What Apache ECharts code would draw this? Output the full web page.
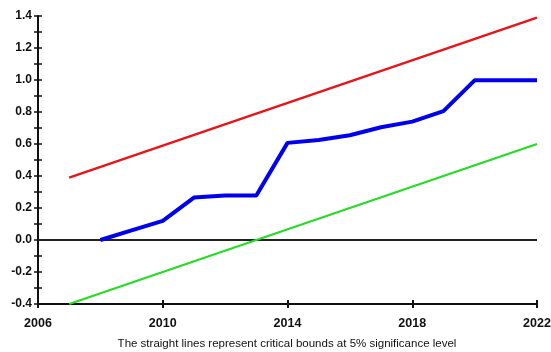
<!DOCTYPE html>
<html><head><meta charset="utf-8">
<script src="https://cdn.jsdelivr.net/npm/echarts@6/dist/echarts.min.js"></script>
<style>html,body{margin:0;padding:0;background:#fff}#c{width:551px;height:352px}</style>
</head><body><div id="c"></div>
<script>
const years = [2008,2009,2010,2011,2012,2013,2014,2015,2016,2017,2018,2019,2020,2021,2022];
const cusum = [0.0,0.06,0.12,0.265,0.278,0.278,0.607,0.625,0.655,0.705,0.74,0.805,0.998,0.998,0.998];
const upperYears = [2007,2022];
const upperVals = [0.39,1.39];
const lowerYears = [2007,2022];
const lowerVals = [-0.4,0.6];
const zeroYears = [2006,2022];
const zeroVals = [0,0];
const caption = 'The straight lines represent critical bounds at 5% significance level';

const pair = (xs, ys) => xs.map((x,i)=>[x, ys[i]]);
const chart = echarts.init(document.getElementById('c'));
const labelFont = {fontFamily:'Liberation Sans, Arial', fontWeight:'bold', fontSize:12.5, color:'#111'};
chart.setOption({
  animation:false,
  backgroundColor:'#fff',
  title:{text:caption,left:287,textAlign:'center',top:338,padding:0,textStyle:{fontFamily:'Liberation Sans, Arial',fontWeight:'normal',fontSize:11.5,color:'#111'}},
  grid:{left:38,right:14,top:16,bottom:48,outerBoundsMode:'none',containLabel:false},
  xAxis:[{type:'value',min:2006,max:2022,interval:4,
    axisLine:{onZero:false,lineStyle:{color:'#111',width:2}},
    axisTick:{show:true,length:4,lineStyle:{color:'#111',width:2}},
    splitLine:{show:false},
    axisLabel:Object.assign({margin:13,formatter:v=>v},labelFont)
  },{type:'value',min:2006,max:2022,interval:4,position:'bottom',
    axisLine:{show:false,onZero:false},axisTick:{show:true,inside:true,length:4,lineStyle:{color:'#111',width:2}},
    axisLabel:{show:false},splitLine:{show:false}}],
  yAxis:[{type:'value',min:-0.4,max:1.4,interval:0.2,
    axisLine:{show:true,onZero:false,lineStyle:{color:'#111',width:2}},
    axisTick:{show:true,length:4,lineStyle:{color:'#111',width:1.5}},
    minorTick:{show:true,splitNumber:2,length:4,lineStyle:{color:'#111',width:1.5}},
    splitLine:{show:false},
    axisLabel:Object.assign({margin:6,formatter:v=>v.toFixed(1)},labelFont,{fontSize:12})
  },{type:'value',min:-0.4,max:1.4,interval:0.1,position:'left',
    axisLine:{show:false,onZero:false},axisTick:{show:true,inside:true,length:4,lineStyle:{color:'#111',width:1.5}},
    axisLabel:{show:false},splitLine:{show:false}}],
  series:[
    {type:'line',data:pair(zeroYears,zeroVals),symbol:'none',lineStyle:{color:'#222',width:2},z:1},
    {type:'line',data:pair(upperYears,upperVals),symbol:'none',lineStyle:{color:'#e8141a',width:2.5},z:2},
    {type:'line',data:pair(lowerYears,lowerVals),symbol:'none',lineStyle:{color:'#22dd22',width:2},z:2},
    {type:'line',data:pair(years,cusum),symbol:'none',lineStyle:{color:'#0000ee',width:4},z:3}
  ]
});
</script></body></html>
